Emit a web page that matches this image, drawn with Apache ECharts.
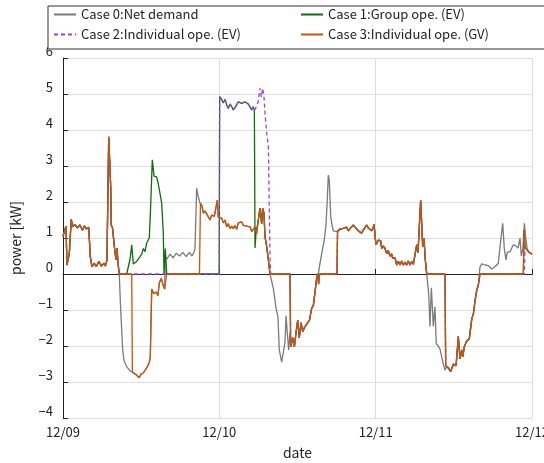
<!DOCTYPE html>
<html><head><meta charset="utf-8">
<script src="https://cdn.jsdelivr.net/npm/echarts@6/dist/echarts.min.js"></script>
<style>html,body{margin:0;padding:0;background:#fff}#c{width:544px;height:463px}</style>
</head><body><div id="c"></div>
<script>
// x values are hours since 12/09 00:00, y values are kW
const dateLabels = ['12/09', '12/10', '12/11', '12/12'];
const seriesNames = ['Case 0:Net demand', 'Case 1:Group ope. (EV)', 'Case 2:Individual ope. (EV)', 'Case 3:Individual ope. (GV)'];

// shared by all cases
const segMorning = [[0,1.05],[0.46,1.33],[0.61,0.25],[0.88,0.2],[0.97,0.58],[1.27,1.52],[1.49,1.31],[1.8,1.38],[2.2,1.28],[2.6,1.36],[3.0,1.22],[3.3,1.34],[3.6,1.25],[3.95,1.3],[4.19,0.48],[4.45,0.2],[4.8,0.3],[5.1,0.2],[5.5,0.35],[5.9,0.22],[6.3,0.3],[6.5,0.22],[6.75,0.39],[7.02,3.81],[7.32,2.43],[7.41,1.36],[7.6,1.28],[7.94,0.67],[8.14,0.39],[8.29,0.72],[8.44,0.3],[8.64,0]];
const segC0Dip1 = [[8.8,-0.77],[8.95,-0.8],[9.16,-2.1],[9.36,-2.4],[9.7,-2.55],[10.08,-2.64],[10.4,-2.7],[10.7,-2.75]];
const segC3Dip1Start = [[10.55,0],[10.65,-2.72]];
const segNight1 = [[11.1,-2.78],[11.36,-2.82],[11.71,-2.88],[11.97,-2.78],[12.33,-2.75],[12.59,-2.68],[12.94,-2.58],[13.25,-2.46],[13.4,-2.3],[13.62,-0.42],[13.93,-0.55],[14.32,-0.5],[14.58,-0.6],[14.78,-0.25],[15.09,-0.12],[15.35,-0.3],[15.6,-0.42]];
const segC0Evening1 = [[15.71,0.48],[15.92,0.41],[16.43,0.55],[16.9,0.45],[17.4,0.58],[17.9,0.5],[18.4,0.6],[18.9,0.48],[19.4,0.6],[19.8,0.5],[20.1,0.6],[20.26,0.71],[20.52,2.38],[20.77,2.15],[21.03,1.97]];
const segC3Evening1 = [[15.92,0],[20.95,0],[21.1,1.97]];
const segC1Day1 = [[9.78,0],[10.29,0.41],[10.55,0.81],[10.79,0.28],[11.31,0.35],[11.82,0.48],[12.08,0.55],[12.33,0.71],[12.59,0.62],[12.85,0.86],[13.25,1.0],[13.46,1.9],[13.71,3.17],[13.97,2.72],[14.38,2.7],[14.63,2.5],[14.89,2.24],[15.15,1.97],[15.4,1.13],[15.51,0],[15.71,0.71],[15.92,0],[23.98,0]];
const segC2Day1 = [[23.98,0]];
const segEVFull = [[24.05,4.93],[24.36,4.85],[24.61,4.75],[24.87,4.85],[25.13,4.7],[25.38,4.6],[25.64,4.72],[25.9,4.65],[26.15,4.56],[26.4,4.62],[26.66,4.7],[26.91,4.78],[27.17,4.82],[27.42,4.74],[27.68,4.7],[27.94,4.78],[28.2,4.74],[28.45,4.72],[28.71,4.69],[28.97,4.56],[29.22,4.65]];
const segC1Drop = [[29.38,4.54],[29.48,0.72],[29.63,1.13]];
const segC2Peak = [[29.48,4.56],[29.73,4.6],[29.98,4.79],[30.24,5.16],[30.45,4.92],[30.66,5.16],[30.86,4.9],[31.01,4.46],[31.27,3.92],[31.53,3.54],[31.68,1.69],[31.78,0.48],[31.89,0]];
const segMorning2 = [[21.34,1.89],[21.54,1.69],[21.8,1.75],[22.06,1.67],[22.31,1.72],[22.57,1.5],[22.83,1.64],[23.23,1.6],[23.49,1.64],[23.69,2.05],[23.84,1.58],[24.1,1.62],[24.36,1.55],[24.61,1.42],[24.87,1.5],[25.13,1.31],[25.38,1.4],[25.64,1.26],[25.9,1.33],[26.15,1.26],[26.4,1.35],[26.66,1.24],[26.91,1.42],[27.17,1.38],[27.42,1.45],[27.68,1.35],[27.94,1.4],[28.2,1.33],[28.45,1.36],[28.71,1.31],[28.97,1.18],[29.22,1.17],[29.47,1.3]];
const segNoon2 = [[29.73,1.12],[29.98,1.5],[30.24,1.83],[30.5,1.39],[30.65,1.83],[30.85,1.69],[31.01,1.04],[31.27,0.76],[31.53,0.39],[31.78,0]];
const segC0Dip2 = [[32.29,-0.4],[32.7,-0.95],[33.0,-1.19],[33.2,-2.1],[33.57,-2.45],[33.82,-2.44],[34.08,-1.9],[34.24,-1.16],[34.44,-1.65],[34.65,-2.11],[34.85,-1.62],[35.0,-2.02]];
const segC3Dip2Start = [[34.85,0],[34.95,-2.02]];
const segNight2 = [[35.26,-1.77],[35.52,-2.02],[35.77,-1.64],[36.03,-1.28],[36.28,-1.77],[36.54,-1.35],[36.8,-1.6],[37.15,-1.46],[37.5,-1.37],[37.84,-1.28],[38.18,-0.95],[38.43,-0.88],[38.69,-0.5],[38.95,-0.1]];
const segC0Evening2 = [[39.2,0.02],[39.46,0.3],[39.72,0.57],[40.07,0.9],[40.37,1.34],[40.57,2.05],[40.73,2.75],[40.88,2.6],[41.1,1.6],[41.25,1.41],[41.5,1.2],[41.76,1.22],[42.02,1.18]];
const segC3Evening2 = [[39.1,0],[39.23,-0.28],[39.4,0],[42.06,0],[42.15,1.18]];
const segDay3 = [[42.26,1.18],[42.52,1.25],[42.78,1.2],[43.03,1.27],[43.29,1.22],[43.55,1.3],[43.8,1.2],[44.06,1.26],[44.32,1.3],[44.58,1.36],[44.83,1.3],[45.08,1.26],[45.33,1.2],[45.6,1.25],[45.85,1.13],[46.1,1.22],[46.36,1.2],[46.62,1.36],[46.87,1.28],[47.13,1.33],[47.38,1.2],[47.6,1.28],[47.74,1.38],[48.05,0.81],[48.4,0.94],[48.77,0.92],[48.93,0.71],[49.17,0.78],[49.43,0.71],[49.7,0.57],[49.94,0.65],[50.2,0.5],[50.45,0.56],[50.61,0.44],[50.97,0.45],[51.23,0.25],[51.5,0.35],[51.74,0.25],[52.0,0.36],[52.24,0.25],[52.5,0.33],[52.76,0.25],[53.0,0.36],[53.27,0.25],[53.52,0.35],[53.78,0.27],[54.04,0.3],[54.3,0.81],[54.5,0.6],[54.91,2.05],[55.22,0.76],[55.42,0.99],[55.62,0.39],[55.84,0]];
const segC0Dip3 = [[55.93,-0.17],[56.14,-0.54],[56.34,-1.46],[56.55,-0.38],[56.85,-1.46],[57.1,-0.91],[57.3,-1.93],[57.6,-2.0],[57.9,-2.1],[58.13,-2.3],[58.38,-2.5],[58.64,-2.67]];
const segC3Dip3Start = [[58.64,0],[58.75,-2.55]];
const segNight3 = [[58.9,-2.57],[59.16,-2.6],[59.52,-2.71],[59.93,-2.5],[60.34,-2.55],[60.69,-1.74],[60.95,-2.36],[61.21,-2.11],[61.37,-2.3],[61.61,-2.02],[61.98,-1.86],[62.37,-1.8],[62.76,-1.24],[63.01,-1.1],[63.25,-0.75],[63.52,-0.45],[63.77,-0.3]];
const segC0Evening3 = [[64.02,0.2],[64.3,0.28],[64.8,0.25],[65.3,0.23],[65.82,0.14],[66.32,0.2],[66.58,0.16],[66.83,0.3],[67.09,0.76],[67.5,1.41],[67.75,0.7],[68.0,0.39],[68.2,0.6],[68.62,0.62],[69.13,0.81],[69.54,0.78],[69.85,0.72],[70.16,0.99],[70.36,0.5],[70.6,0.7],[70.83,1.41],[71.04,1.0],[71.26,0.7],[71.46,0.62],[71.72,0.58],[72,0.55]];
const segC3Evening3 = [[64.02,0],[70.67,0],[70.78,1.22],[70.93,0.74]];
const segC2Evening3 = [[64.02,0],[70.83,0],[70.93,0.76]];
const segEnd = [[71.19,0.78],[71.46,0.62],[71.72,0.58],[72,0.55]];

const case0 = [].concat(segMorning, segC0Dip1, segNight1, segC0Evening1, segMorning2, segNoon2, segC0Dip2, segNight2, segC0Evening2, segDay3, segC0Dip3, segNight3, segC0Evening3);
const case1 = [].concat(segMorning, segC1Day1, segEVFull, segC1Drop, segNoon2, segC3Dip2Start, segNight2, segC3Evening2, segDay3, segC3Dip3Start, segNight3, segC3Evening3, segEnd);
const case2 = [].concat(segMorning, segC2Day1, segEVFull, segC2Peak, segC3Dip2Start, segNight2, segC3Evening2, segDay3, segC3Dip3Start, segNight3, segC2Evening3, segEnd);
const case3 = [].concat(segMorning, segC3Dip1Start, segNight1, segC3Evening1, segMorning2, segNoon2, segC3Dip2Start, segNight2, segC3Evening2, segDay3, segC3Dip3Start, segNight3, segC3Evening3, segEnd);

const colors = ['#7a7a7a', '#0b6e0b', '#a23ee0', '#c8540e'];
const font = 'Noto Sans CJK JP';

const chart = echarts.init(document.getElementById('c'));
function lineSeries(name, data, color, type) {
  return {
    name: name, type: 'line', data: data, symbol: 'none', showSymbol: false,
    lineStyle: { color: color, width: 1.3, type: type || 'solid' },
    itemStyle: { color: color }, animation: false
  };
}
chart.setOption({
  animation: false,
  textStyle: { fontFamily: font },
  grid: { left: 63, right: 12, top: 58, bottom: 45, containLabel: false, outerBoundsMode: 'none' },
  legend: {
    data: seriesNames,
    left: 48, top: 6, width: 490,
    orient: 'horizontal',
    padding: [1, 12, 7, 5],
    itemGap: 5, itemWidth: 22, itemHeight: 15,
    backgroundColor: '#fff', borderColor: '#333', borderWidth: 1,
    itemStyle: { color: 'rgba(0,0,0,0)', borderWidth: 0, opacity: 0 },
    textStyle: { fontFamily: font, fontSize: 13, color: '#222', width: 214, lineHeight: 15 }
  },
  xAxis: {
    type: 'value', min: 0, max: 72, interval: 24,
    name: 'date', nameLocation: 'middle', nameGap: 28,
    nameTextStyle: { fontFamily: font, fontSize: 14, color: '#222' },
    axisLine: { show: true, lineStyle: { color: '#222', width: 1 } },
    axisTick: { show: true, inside: true, length: 5, lineStyle: { color: '#222' } },
    axisLabel: { fontFamily: font, fontSize: 13, color: '#222', margin: 8,
      formatter: function (v) { return dateLabels[Math.round(v / 24)]; } },
    splitLine: { show: true, lineStyle: { color: '#dedede', width: 1 } }
  },
  yAxis: {
    type: 'value', min: -4, max: 6, interval: 1,
    name: 'power [kW]', nameLocation: 'middle', nameGap: 40,
    nameTextStyle: { fontFamily: font, fontSize: 14, color: '#222' },
    axisLine: { show: true, lineStyle: { color: '#222', width: 1 } },
    axisTick: { show: true, inside: true, length: 5, lineStyle: { color: '#222' } },
    axisLabel: { fontFamily: font, fontSize: 13, color: '#222', margin: 10, verticalAlign: 'bottom', lineHeight: 14,
      formatter: function (v) { return String(v).replace('-', '\u2212'); } },
    splitLine: { show: true, lineStyle: { color: '#dedede', width: 1 } }
  },
  series: [
    lineSeries(seriesNames[0], case0, colors[0]),
    lineSeries(seriesNames[1], case1, colors[1]),
    lineSeries(seriesNames[2], case2, colors[2], [4, 3]),
    lineSeries(seriesNames[3], case3, colors[3])
  ]
});
</script></body></html>
